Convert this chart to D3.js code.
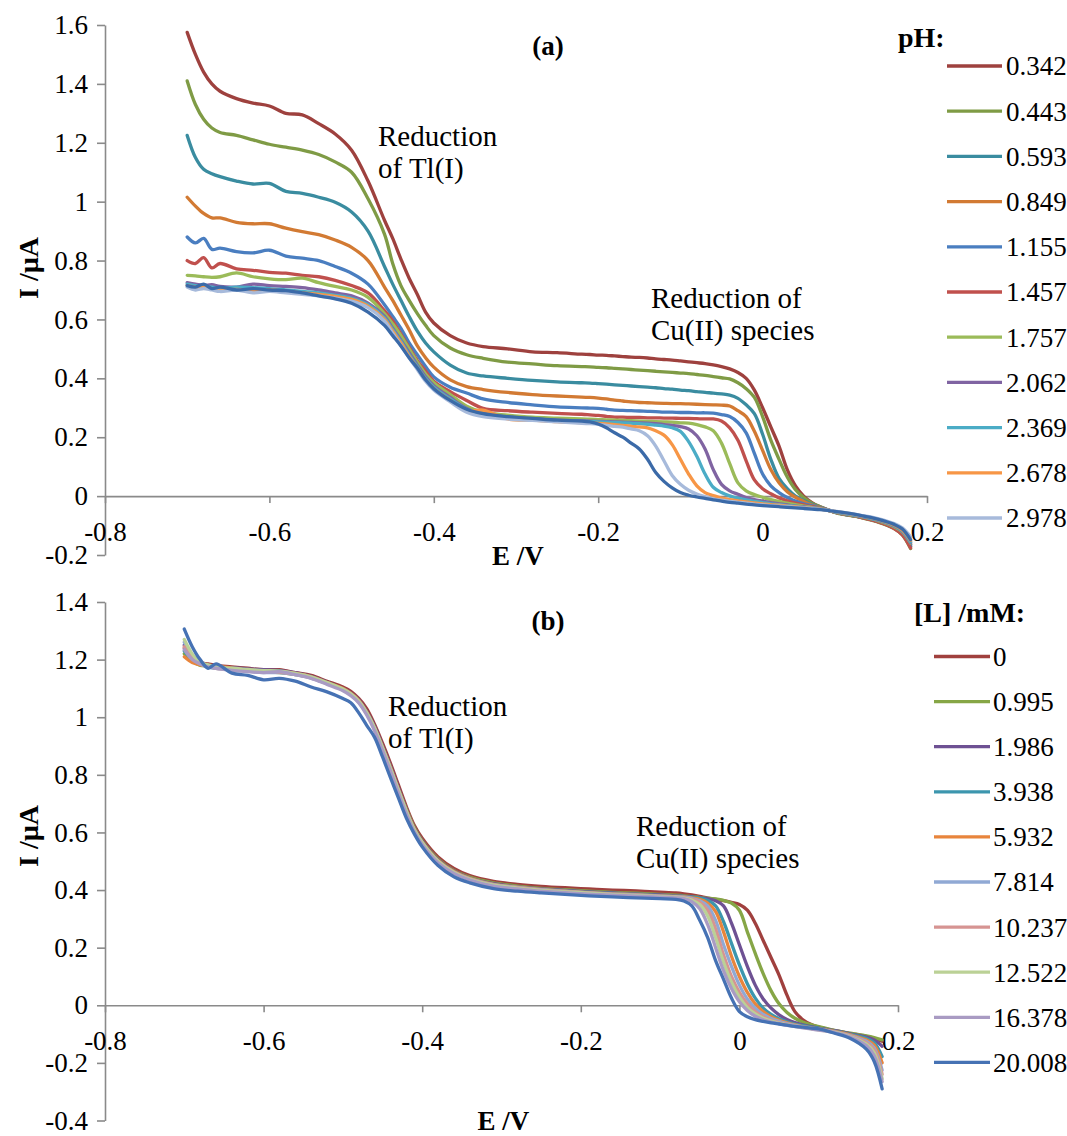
<!DOCTYPE html>
<html>
<head>
<meta charset="utf-8">
<script src="https://cdn.jsdelivr.net/npm/d3@7"></script>
<style>
  body { margin: 0; background: #fff; }
  svg { display: block; font-family: "Liberation Serif", "Times New Roman", serif; }
</style>
</head>
<body>
<svg id="chart" width="1067" height="1136"></svg>
<script>
// ---------- panel (a): current vs potential at different pH ----------
const potentialA = [-0.70,-0.69,-0.68,-0.67,-0.66,-0.64,-0.62,-0.60,-0.58,-0.56,-0.54,-0.52,-0.50,-0.48,-0.46,-0.45,-0.44,-0.43,-0.42,-0.41,-0.40,-0.38,-0.36,-0.34,-0.31,-0.28,-0.25,
  -0.22,-0.21,-0.20,-0.19,-0.18,-0.17,-0.16,-0.15,-0.14,-0.13,-0.12,-0.11,-0.10,-0.09,-0.08,-0.07,-0.06,-0.05,-0.04,-0.03,-0.02,-0.01,0.00,0.01,0.02,0.03,0.04,0.05,0.06,0.07,
  0.09,0.12,0.14,0.16,0.17,0.18];

const phLabels = ["0.342","0.443","0.593","0.849","1.155","1.457","1.757","2.062","2.369","2.678","2.978"];
const phColors = ["#9E413E","#7F9B45","#3A8CA0","#D27A33","#4A7EC0","#C0504D","#9BBB59","#8064A2","#4BACC6","#F79646","#A7BADB"];

const currentA = [
  [1.575,1.50,1.44,1.40,1.375,1.35,1.335,1.325,1.30,1.295,1.265,1.23,1.175,1.07,0.937,0.875,0.805,0.74,0.685,0.625,0.588,0.545,0.52,0.508,0.50,0.49,0.487,
   0.482,0.481,0.479,0.478,0.476,0.474,0.472,0.471,0.469,0.466,0.464,0.462,0.459,0.456,0.453,0.45,0.446,0.44,0.432,0.42,0.40,0.36,0.30,0.235,0.17,0.09,0.035,0.0,-0.022,-0.036,
   -0.056,-0.072,-0.086,-0.108,-0.128,-0.172],
  [1.41,1.33,1.28,1.25,1.235,1.225,1.21,1.195,1.185,1.175,1.16,1.135,1.10,1.01,0.89,0.79,0.715,0.665,0.62,0.58,0.545,0.503,0.48,0.468,0.455,0.449,0.443,
   0.44,0.439,0.437,0.436,0.434,0.432,0.43,0.428,0.426,0.424,0.422,0.42,0.418,0.416,0.413,0.41,0.406,0.402,0.398,0.385,0.365,0.335,0.27,0.19,0.125,0.065,0.022,-0.005,-0.024,-0.036,
   -0.057,-0.073,-0.088,-0.11,-0.132,-0.178],
  [1.225,1.15,1.11,1.095,1.085,1.07,1.06,1.062,1.035,1.028,1.015,0.998,0.965,0.90,0.78,0.72,0.665,0.61,0.56,0.52,0.49,0.445,0.418,0.408,0.40,0.393,0.388,
   0.385,0.384,0.382,0.38,0.378,0.376,0.374,0.372,0.37,0.368,0.365,0.363,0.36,0.358,0.355,0.352,0.35,0.347,0.343,0.332,0.31,0.28,0.21,0.125,0.06,0.025,0.0,-0.015,-0.028,-0.038,
   -0.056,-0.072,-0.086,-0.108,-0.128,-0.17],
  [1.015,0.985,0.96,0.945,0.945,0.93,0.925,0.925,0.91,0.898,0.888,0.87,0.845,0.80,0.71,0.665,0.615,0.565,0.51,0.47,0.438,0.395,0.372,0.362,0.352,0.345,0.34,
   0.336,0.335,0.333,0.33,0.326,0.323,0.32,0.318,0.317,0.316,0.315,0.314,0.314,0.313,0.312,0.311,0.31,0.309,0.306,0.29,0.27,0.22,0.155,0.09,0.045,0.015,-0.004,-0.018,-0.03,-0.039,
   -0.055,-0.071,-0.085,-0.106,-0.125,-0.165],
  [0.88,0.86,0.875,0.838,0.842,0.83,0.826,0.835,0.815,0.808,0.80,0.78,0.757,0.72,0.65,0.61,0.57,0.52,0.48,0.44,0.405,0.37,0.35,0.33,0.318,0.31,0.303,
   0.30,0.299,0.298,0.295,0.292,0.291,0.29,0.289,0.288,0.287,0.285,0.285,0.284,0.284,0.283,0.283,0.282,0.277,0.27,0.25,0.215,0.145,0.075,0.035,0.012,-0.005,-0.017,-0.026,-0.033,-0.04,
   -0.055,-0.07,-0.084,-0.105,-0.124,-0.165],
  [0.80,0.79,0.81,0.775,0.79,0.772,0.767,0.76,0.757,0.75,0.745,0.733,0.715,0.69,0.63,0.595,0.55,0.505,0.46,0.425,0.39,0.355,0.325,0.298,0.29,0.285,0.281,
   0.278,0.276,0.274,0.271,0.268,0.268,0.267,0.267,0.266,0.266,0.265,0.265,0.264,0.264,0.263,0.262,0.262,0.255,0.232,0.19,0.12,0.055,0.025,0.008,-0.006,-0.016,-0.024,-0.03,-0.036,-0.041,
   -0.056,-0.072,-0.087,-0.11,-0.132,-0.176],
  [0.75,0.748,0.745,0.743,0.745,0.758,0.745,0.738,0.735,0.74,0.725,0.712,0.70,0.675,0.62,0.585,0.545,0.50,0.455,0.415,0.385,0.345,0.305,0.285,0.275,0.268,0.265,
   0.262,0.261,0.26,0.259,0.258,0.257,0.256,0.255,0.254,0.253,0.252,0.251,0.249,0.248,0.243,0.235,0.222,0.18,0.11,0.045,0.018,0.005,-0.004,-0.012,-0.018,-0.024,-0.029,-0.034,-0.038,-0.042,
   -0.055,-0.07,-0.083,-0.104,-0.122,-0.16],
  [0.725,0.72,0.715,0.718,0.712,0.71,0.72,0.715,0.712,0.708,0.70,0.69,0.68,0.655,0.61,0.57,0.53,0.487,0.445,0.405,0.375,0.335,0.298,0.28,0.268,0.262,0.258,
   0.256,0.255,0.254,0.253,0.252,0.251,0.25,0.249,0.248,0.246,0.243,0.24,0.236,0.228,0.205,0.16,0.09,0.04,0.018,0.006,-0.005,-0.012,-0.017,-0.022,-0.026,-0.03,-0.034,-0.037,-0.04,-0.043,
   -0.054,-0.069,-0.082,-0.102,-0.12,-0.158],
  [0.72,0.715,0.712,0.71,0.705,0.71,0.708,0.705,0.70,0.695,0.69,0.682,0.672,0.65,0.605,0.565,0.525,0.48,0.44,0.40,0.37,0.33,0.295,0.278,0.265,0.26,0.256,
   0.254,0.253,0.252,0.251,0.25,0.249,0.248,0.246,0.244,0.241,0.238,0.232,0.22,0.185,0.135,0.075,0.03,0.012,0.001,-0.007,-0.013,-0.018,-0.022,-0.026,-0.029,-0.032,-0.035,-0.038,-0.041,-0.044,
   -0.054,-0.068,-0.081,-0.1,-0.118,-0.155],
  [0.715,0.71,0.708,0.705,0.70,0.702,0.698,0.70,0.695,0.69,0.685,0.678,0.668,0.645,0.60,0.56,0.52,0.475,0.435,0.395,0.365,0.325,0.29,0.292,0.262,0.258,0.253,
   0.25,0.249,0.247,0.245,0.243,0.24,0.237,0.235,0.232,0.222,0.207,0.175,0.125,0.075,0.035,0.012,0.002,-0.007,-0.012,-0.016,-0.02,-0.023,-0.026,-0.029,-0.031,-0.034,-0.036,-0.039,-0.041,-0.044,
   -0.053,-0.067,-0.079,-0.098,-0.115,-0.15],
  [0.71,0.70,0.705,0.70,0.695,0.70,0.69,0.695,0.69,0.685,0.68,0.672,0.662,0.64,0.595,0.553,0.512,0.47,0.43,0.39,0.36,0.32,0.285,0.27,0.262,0.257,0.252,
   0.247,0.246,0.244,0.24,0.237,0.234,0.228,0.222,0.205,0.17,0.12,0.07,0.04,0.02,0.007,-0.002,-0.009,-0.014,-0.018,-0.021,-0.024,-0.027,-0.03,-0.032,-0.034,-0.036,-0.038,-0.04,-0.042,-0.045,
   -0.052,-0.065,-0.076,-0.093,-0.108,-0.138]
];

// twelfth curve of panel (a): drawn, but its legend entry is not shown in the figure
const unlabeledA = [0.715,0.71,0.72,0.705,0.71,0.70,0.705,0.70,0.698,0.69,0.68,0.67,0.655,0.625,0.58,0.545,0.51,0.47,0.435,0.395,0.365,0.325,0.295,0.28,0.27,0.264,0.258,
  0.255,0.252,0.245,0.232,0.215,0.2,0.18,0.16,0.125,0.08,0.05,0.028,0.012,0.003,-0.003,-0.008,-0.013,-0.017,-0.021,-0.024,-0.027,-0.03,-0.032,-0.034,-0.036,-0.038,-0.04,-0.042,-0.044,-0.046,
  -0.053,-0.066,-0.078,-0.096,-0.112,-0.148];
const unlabeledColorA = "#3B6AA8";

// ---------- panel (b): current vs potential at different ligand concentration ----------
const potentialB = [-0.70,-0.69,-0.68,-0.67,-0.66,-0.64,-0.62,-0.60,-0.58,-0.56,-0.54,-0.52,-0.50,-0.49,-0.48,-0.47,-0.46,-0.45,-0.44,-0.43,-0.42,-0.41,-0.40,-0.38,-0.36,-0.34,-0.31,-0.28,-0.25,-0.22,-0.19,-0.16,-0.13,-0.10,
  -0.08,-0.07,-0.06,-0.05,-0.04,-0.03,-0.02,-0.01,0.00,0.01,0.02,0.03,0.04,0.05,0.06,0.07,0.08,0.09,0.10,
  0.12,0.14,0.16,0.17,0.18];

const ligandLabels = ["0","0.995","1.986","3.938","5.932","7.814","10.237","12.522","16.378","20.008"];
const ligandColors = ["#A0403E","#86A646","#6E5193","#3C96AE","#E8853C","#90A9D4","#D69492","#BBD196","#A99BC3","#4672B4"];

const currentB = [
  [1.24,1.205,1.19,1.185,1.18,1.175,1.17,1.165,1.165,1.155,1.145,1.125,1.105,1.09,1.065,1.03,0.975,0.91,0.84,0.765,0.69,0.625,0.58,0.515,0.475,0.45,0.43,0.42,0.413,0.408,0.404,0.40,0.397,0.393,
   0.39,0.387,0.383,0.378,0.372,0.368,0.363,0.357,0.35,0.33,0.285,0.225,0.165,0.105,0.035,-0.022,-0.05,-0.066,-0.076,
   -0.088,-0.098,-0.108,-0.115,-0.125],
  [1.22,1.195,1.18,1.178,1.172,1.168,1.162,1.158,1.155,1.148,1.138,1.12,1.098,1.082,1.058,1.018,0.965,0.898,0.828,0.752,0.682,0.618,0.572,0.508,0.468,0.445,0.425,0.414,0.406,0.401,0.396,0.392,0.389,0.385,
   0.382,0.38,0.377,0.374,0.372,0.369,0.364,0.355,0.33,0.255,0.18,0.11,0.05,0.005,-0.025,-0.045,-0.058,-0.067,-0.074,
   -0.087,-0.097,-0.106,-0.112,-0.12],
  [1.25,1.21,1.19,1.18,1.175,1.172,1.168,1.165,1.162,1.155,1.142,1.122,1.1,1.085,1.06,1.02,0.968,0.9,0.83,0.755,0.68,0.615,0.57,0.505,0.466,0.442,0.422,0.411,0.404,0.399,0.394,0.39,0.386,0.383,
   0.38,0.378,0.376,0.373,0.37,0.363,0.345,0.285,0.21,0.135,0.07,0.022,-0.01,-0.033,-0.049,-0.06,-0.068,-0.074,-0.079,
   -0.088,-0.099,-0.11,-0.12,-0.142],
  [1.23,1.2,1.188,1.175,1.17,1.168,1.16,1.158,1.16,1.15,1.138,1.118,1.097,1.08,1.055,1.015,0.96,0.893,0.822,0.748,0.675,0.612,0.566,0.502,0.464,0.44,0.42,0.41,0.402,0.397,0.392,0.388,0.385,0.381,
   0.379,0.377,0.375,0.372,0.365,0.345,0.29,0.215,0.14,0.075,0.025,-0.01,-0.032,-0.047,-0.057,-0.065,-0.071,-0.076,-0.08,
   -0.09,-0.101,-0.115,-0.13,-0.178],
  [1.21,1.19,1.182,1.18,1.178,1.17,1.163,1.16,1.158,1.152,1.14,1.12,1.1,1.083,1.058,1.017,0.962,0.895,0.825,0.75,0.677,0.613,0.567,0.503,0.465,0.441,0.42,0.41,0.402,0.396,0.391,0.387,0.384,0.38,
   0.378,0.376,0.373,0.368,0.355,0.325,0.255,0.17,0.1,0.045,0.005,-0.022,-0.04,-0.052,-0.061,-0.068,-0.074,-0.078,-0.082,
   -0.091,-0.103,-0.12,-0.138,-0.2],
  [1.26,1.215,1.19,1.18,1.173,1.165,1.16,1.155,1.155,1.148,1.136,1.116,1.095,1.078,1.052,1.012,0.958,0.89,0.82,0.745,0.672,0.608,0.563,0.5,0.462,0.439,0.419,0.409,0.401,0.395,0.39,0.386,0.383,0.379,
   0.377,0.375,0.371,0.363,0.345,0.295,0.21,0.135,0.07,0.022,-0.01,-0.032,-0.046,-0.056,-0.064,-0.07,-0.075,-0.079,-0.083,
   -0.092,-0.105,-0.125,-0.148,-0.225],
  [1.245,1.205,1.185,1.176,1.17,1.167,1.164,1.16,1.157,1.15,1.137,1.117,1.096,1.08,1.054,1.014,0.96,0.892,0.82,0.745,0.672,0.609,0.564,0.5,0.462,0.438,0.418,0.408,0.4,0.395,0.39,0.385,0.382,0.378,
   0.376,0.374,0.368,0.358,0.33,0.265,0.175,0.1,0.045,0.005,-0.022,-0.04,-0.051,-0.06,-0.066,-0.072,-0.076,-0.08,-0.084,
   -0.093,-0.107,-0.13,-0.155,-0.24],
  [1.27,1.22,1.19,1.182,1.176,1.17,1.166,1.162,1.16,1.152,1.14,1.12,1.098,1.081,1.056,1.016,0.962,0.894,0.822,0.747,0.674,0.61,0.565,0.5,0.461,0.437,0.417,0.407,0.399,0.394,0.389,0.384,0.381,0.377,
   0.375,0.372,0.365,0.35,0.31,0.235,0.15,0.08,0.028,-0.008,-0.03,-0.045,-0.055,-0.062,-0.068,-0.073,-0.077,-0.081,-0.085,
   -0.094,-0.109,-0.135,-0.165,-0.255],
  [1.235,1.2,1.185,1.175,1.17,1.163,1.158,1.155,1.158,1.148,1.135,1.114,1.092,1.075,1.05,1.008,0.953,0.885,0.813,0.738,0.665,0.603,0.558,0.495,0.458,0.435,0.414,0.404,0.396,0.391,0.386,0.382,0.379,0.375,
   0.373,0.37,0.36,0.335,0.28,0.2,0.12,0.058,0.012,-0.018,-0.038,-0.05,-0.058,-0.064,-0.07,-0.074,-0.078,-0.082,-0.086,
   -0.095,-0.111,-0.14,-0.175,-0.265],
  [1.306,1.245,1.20,1.17,1.185,1.153,1.145,1.13,1.135,1.125,1.105,1.088,1.065,1.05,1.015,0.972,0.93,0.862,0.79,0.72,0.65,0.595,0.55,0.485,0.446,0.425,0.405,0.396,0.39,0.385,0.38,0.376,0.373,0.37,
   0.368,0.362,0.345,0.295,0.235,0.155,0.09,0.025,-0.022,-0.04,-0.05,-0.056,-0.061,-0.065,-0.069,-0.073,-0.076,-0.079,-0.082,
   -0.097,-0.115,-0.152,-0.195,-0.29]
];

// ---------- tick values ----------
const xTicks = [-0.8, -0.6, -0.4, -0.2, 0, 0.2];
const yTicksA = [-0.2, 0, 0.2, 0.4, 0.6, 0.8, 1, 1.2, 1.4, 1.6];
const yTicksB = [-0.4, -0.2, 0, 0.2, 0.4, 0.6, 0.8, 1, 1.2, 1.4];

const svg = d3.select("#chart");
const axisColor = "#8A8A8A";
const fmt = d => String(+d.toFixed(1));

function drawPanel(cfg) {
  const x = d3.scaleLinear().domain([-0.8, 0.2]).range(cfg.xRange);
  const y = d3.scaleLinear().domain(cfg.yDomain).range(cfg.yRange);
  const g = svg.append("g");

  // y axis
  const ya = g.append("g")
    .attr("transform", `translate(${cfg.xRange[0]},0)`)
    .call(d3.axisLeft(y).tickValues(cfg.yTicks).tickFormat(fmt).tickSize(8).tickSizeOuter(0).tickPadding(9));
  // x axis crosses at I = 0
  const xa = g.append("g")
    .attr("transform", `translate(0,${y(0)})`)
    .call(d3.axisBottom(x).tickValues(xTicks).tickFormat(fmt).tickSize(7).tickSizeOuter(0));
  xa.selectAll(".tick text").attr("y", 26);

  [ya, xa].forEach(a => {
    a.select(".domain").attr("stroke", axisColor).attr("stroke-width", 1.6);
    a.selectAll(".tick line").attr("stroke", axisColor).attr("stroke-width", 1.6);
    a.selectAll(".tick text").attr("fill", "#000").attr("font-size", 27)
      .attr("font-family", "Liberation Serif, Times New Roman, serif");
  });

  // curves
  const line = d3.line()
    .x((d, i) => x(cfg.potential[i]))
    .y(d => y(d))
    .curve(d3.curveCatmullRom.alpha(0.5));

  g.append("g").selectAll("path")
    .data(cfg.series)
    .join("path")
      .attr("d", d => line(d.values))
      .attr("fill", "none")
      .attr("stroke", d => d.color)
      .attr("stroke-width", 3.3)
      .attr("stroke-linejoin", "round")
      .attr("stroke-linecap", "round");

  // legend
  const lg = g.append("g");
  lg.append("text")
    .attr("x", cfg.legend.titleX).attr("y", cfg.legend.titleY)
    .attr("font-size", 28).attr("font-weight", "bold")
    .text(cfg.legend.title);
  const items = lg.selectAll("g.item")
    .data(cfg.series.filter(s => s.label !== null))
    .join("g")
      .attr("class", "item")
      .attr("transform", (d, i) => `translate(0,${cfg.legend.y0 + i * cfg.legend.dy})`);
  items.append("line")
    .attr("x1", cfg.legend.x1).attr("x2", cfg.legend.x2)
    .attr("stroke", d => d.color).attr("stroke-width", 3.3);
  items.append("text")
    .attr("x", cfg.legend.tx).attr("dy", "0.35em")
    .attr("font-size", 27)
    .text(d => d.label);

  // panel title
  g.append("text")
    .attr("x", cfg.title.x).attr("y", cfg.title.y)
    .attr("text-anchor", "middle").attr("font-size", 27).attr("font-weight", "bold")
    .text(cfg.title.text);

  // axis titles
  g.append("text")
    .attr("x", (cfg.xRange[0] + cfg.xRange[1]) / 2 + 2).attr("y", cfg.xLabelY)
    .attr("text-anchor", "middle").attr("font-size", 27).attr("font-weight", "bold")
    .text("E /V");
  g.append("text")
    .attr("transform", `translate(38,${cfg.yLabelY}) rotate(-90)`)
    .attr("text-anchor", "middle").attr("font-size", 28).attr("font-weight", "bold")
    .text("I /µA");

  // annotations
  g.append("g").selectAll("text")
    .data(cfg.notes)
    .join("text")
      .attr("x", d => d.x).attr("y", d => d.y)
      .attr("font-size", 29)
      .text(d => d.text);
}

drawPanel({
  xRange: [105, 927],
  yDomain: [-0.2, 1.6],
  yRange: [555, 25],
  yTicks: yTicksA,
  potential: potentialA,
  series: currentA.map((v, i) => ({values: v, color: phColors[i], label: phLabels[i]}))
    .concat([{values: unlabeledA, color: unlabeledColorA, label: null}]),
  legend: {title: "pH:", titleX: 898, titleY: 47, y0: 66, dy: 45.2, x1: 947, x2: 1002, tx: 1006},
  title: {text: "(a)", x: 548, y: 55},
  xLabelY: 565,
  yLabelY: 268,
  notes: [
    {text: "Reduction", x: 378, y: 146},
    {text: "of Tl(I)", x: 378, y: 178},
    {text: "Reduction of", x: 651, y: 308},
    {text: "Cu(II) species", x: 651, y: 340}
  ]
});

drawPanel({
  xRange: [105, 898],
  yDomain: [-0.4, 1.4],
  yRange: [1120.5, 602],
  yTicks: yTicksB,
  potential: potentialB,
  series: currentB.map((v, i) => ({values: v, color: ligandColors[i], label: ligandLabels[i]})),
  legend: {title: "[L] /mM:", titleX: 914, titleY: 622, y0: 656.5, dy: 45.1, x1: 934, x2: 990, tx: 993},
  title: {text: "(b)", x: 548, y: 630},
  xLabelY: 1130,
  yLabelY: 836,
  notes: [
    {text: "Reduction", x: 388, y: 716},
    {text: "of Tl(I)", x: 388, y: 748},
    {text: "Reduction of", x: 636, y: 836},
    {text: "Cu(II) species", x: 636, y: 868}
  ]
});
</script>
</body>
</html>
